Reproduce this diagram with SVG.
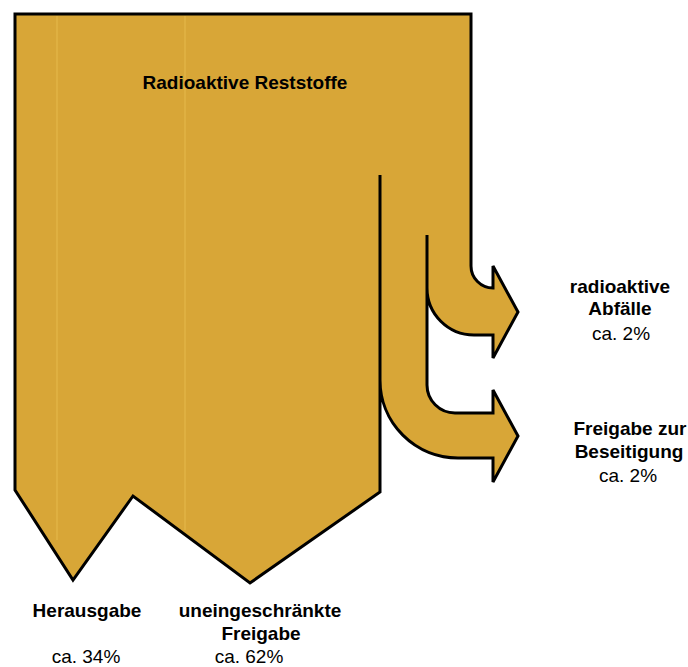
<svg xmlns="http://www.w3.org/2000/svg" width="688" height="667" viewBox="0 0 688 667">
<style>
.fill{fill:#D8A637;stroke:#000;stroke-width:3;stroke-linejoin:miter}
.line{fill:none;stroke:#000;stroke-width:3}
.stripe{fill:none;stroke:#EDC356;stroke-width:1.5;opacity:0.45}
.t{font-family:"Liberation Sans",Arial,sans-serif;font-size:19px;fill:#000;text-anchor:middle}
.b{font-weight:bold}
</style>
<rect width="688" height="667" fill="#fff"/>
<g id="reststoffe">
<path class="fill" d="M15,14 H471 V266 A22,22 0 0 0 493,288 V266 L518,312 L493,358 V335 H474 A47,47 0 0 1 427,288 V385 A28,28 0 0 0 455,413 H493 V390 L518,436 L493,482 V458 H458 A78,78 0 0 1 380,380 V492 L250,583 L133,496 L73,580 L15,490 Z"/>
<line class="stripe" x1="57" y1="16" x2="57" y2="540"/>
<line class="stripe" x1="185" y1="16" x2="185" y2="530"/>
<text class="t b" x="245" y="89">Radioaktive Reststoffe</text>
</g>
<g id="connectors">
<path class="line" d="M380,175 V380"/>
<path class="line" d="M427,235 V288"/>
</g>
<g id="abfaelle">
<text class="t b" x="620" y="293">radioaktive</text>
<text class="t b" x="620" y="315">Abfälle</text>
<text class="t" x="621" y="340">ca. 2%</text>
</g>
<g id="beseitigung">
<text class="t b" x="630" y="435">Freigabe zur</text>
<text class="t b" x="629" y="458">Beseitigung</text>
<text class="t" x="628" y="482">ca. 2%</text>
</g>
<g id="herausgabe">
<text class="t b" x="87" y="617">Herausgabe</text>
<text class="t" x="86" y="663">ca. 34%</text>
</g>
<g id="freigabe">
<text class="t b" x="260" y="617">uneingeschränkte</text>
<text class="t b" x="261" y="640">Freigabe</text>
<text class="t" x="249" y="663">ca. 62%</text>
</g>
</svg>
